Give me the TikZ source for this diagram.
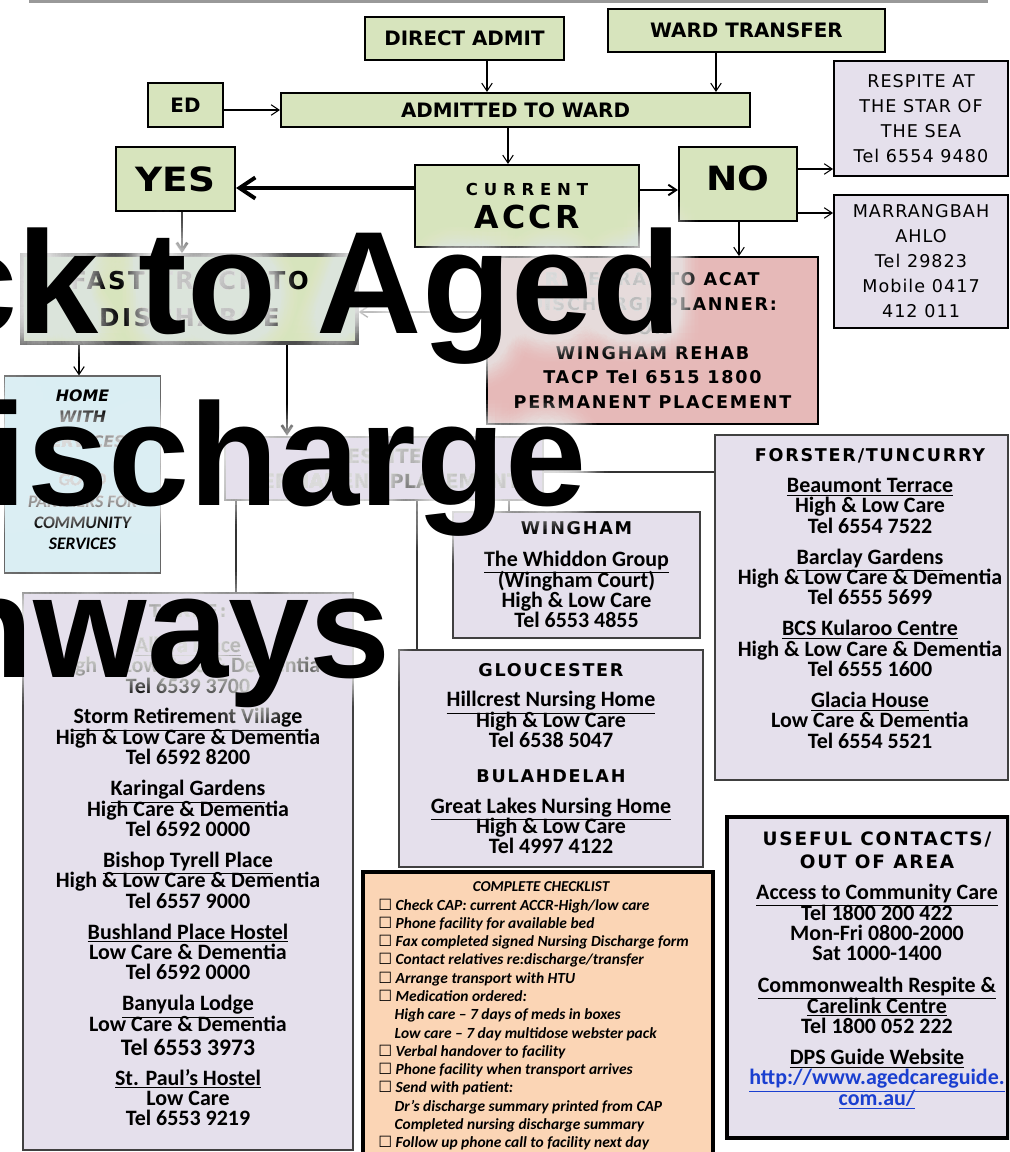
\documentclass[tikz,border=0pt]{standalone}
\usepackage{fontspec}
\setmainfont{Carlito}
\newfontfamily\tah{DejaVu Sans}
\newfontfamily\tahw[FakeStretch=1.12]{DejaVu Sans}
\newfontfamily\tahsp[LetterSpace=10]{DejaVu Sans}
\newfontfamily\tahsix[LetterSpace=6]{DejaVu Sans}
\newfontfamily\tahcur[LetterSpace=35]{DejaVu Sans}
\newfontfamily\arl{Liberation Sans}
\usetikzlibrary{arrows.meta}

\definecolor{boxgreen}{HTML}{D7E4BD}
\definecolor{boxlav}{HTML}{E5E0EC}
\definecolor{boxpink}{HTML}{E6B9B8}
\definecolor{boxblue}{HTML}{DAEEF3}
\definecolor{boxpeach}{HTML}{FBD5B5}
\definecolor{linkblue}{HTML}{1A3FD0}

\newcommand{\pxu}{0.02cm}
\newcommand{\hd}{\tahsp\bfseries\fontsize{10}{11.6}\selectfont}
\newcommand{\hdl}{\tahsp\bfseries\fontsize{10.5}{11.6}\selectfont}
\newcommand{\chkbox}{{\tah\mdseries\upshape ☐}}

\begin{document}
\setlength{\lineskiplimit}{-20pt}
\begin{tikzpicture}[x=0.02cm, y=-0.02cm,
    boxsize/.style 2 args={minimum width=#1*\pxu, minimum height=#2*\pxu},
    flow/.style={draw=black, line width=1.2pt, fill=boxgreen, inner sep=0pt, align=center, font=\tah\bfseries\fontsize{11.3}{13}\selectfont},
    info/.style={draw=black!75, line width=0.9pt, fill=boxlav, inner sep=0pt, align=center, font=\bfseries\fontsize{12.5}{11.6}\selectfont},
    factxt/.style={inner sep=0pt, align=center, font=\bfseries\fontsize{12.5}{11.6}\selectfont},
    contact/.style={draw=black, line width=1.1pt, fill=boxlav, inner sep=0pt, align=center, font=\tahsix\fontsize{10}{14.2}\selectfont},
    arr/.style={-{Straight Barb[length=4.5pt,width=6pt]}, line width=0.6pt},
    bigarr/.style={-{Straight Barb[length=9pt,width=12pt]}, line width=2.2pt},
    link/.style={line width=0.6pt, draw=black!80},
    glow/.style={text=white, text opacity=0.028, inner sep=0pt, anchor=base east, font=\arl\bfseries\fontsize{83}{90}\selectfont},
    bigtxt/.style={inner sep=0pt, anchor=base east, font=\arl\bfseries\fontsize{83}{90}\selectfont}]
  \useasboundingbox (0,0) rectangle (1009,1152);
  \clip (0,0) rectangle (1009,1152);

  \fill[black!40] (29,0) rectangle (988,3);

  \node[flow, boxsize={199}{43}] (direct) at (464.5,38.5) {DIRECT ADMIT};
  \node[flow, boxsize={277}{43}] (ward) at (746.5,30.5) {WARD TRANSFER};
  \node[flow, boxsize={75}{44}] (ed) at (185.5,105) {ED};
  \node[flow, boxsize={469}{34}] (admitted) at (515.5,110) {ADMITTED TO WARD};
  \node[flow, boxsize={119}{64}, font=\tahw\bfseries\fontsize{19}{22}\selectfont] (yes) at (175.5,179) {YES};
  \node[flow, boxsize={224}{82}, font=\tahcur\bfseries\fontsize{9.4}{18.7}\selectfont] (current) at (527,206) {CURRENT\\{\tahsp\fontsize{18}{18.7}\selectfont ACCR}};
  \node[flow, boxsize={118}{74}, font=\tahw\bfseries\fontsize{19}{22}\selectfont] (no) at (738,184) {\raisebox{3.4pt}[\height][\depth]{NO}};

  \node[contact, boxsize={174}{115}] (respite) at (921,118.5) {RESPITE AT\\THE STAR OF\\THE SEA\\Tel 6554 9480};
  \node[contact, boxsize={174}{133}] (marr) at (921,261.5) {MARRANGBAH\\AHLO\\Tel 29823\\Mobile 0417\\412 011};

  \node[flow, boxsize={335}{88}, draw=black!70, line width=2.2pt, font=\tahsp\bfseries\fontsize{14}{21.5}\selectfont] (fast) at (189.5,299) {FAST TRACK TO\\DISCHARGE};
  \node[draw=black, line width=1.1pt, fill=boxpink, boxsize={331}{167}, inner sep=0pt, align=center, font=\tahsp\bfseries\fontsize{10}{14}\selectfont] (pink) at (652.5,340.5) {REFERRAL TO ACAT\\DISCHARGE PLANNER:\\OR\\WINGHAM REHAB\\TACP Tel 6515 1800\\PERMANENT PLACEMENT};

  \node[draw=black!60, line width=0.7pt, fill=boxblue, boxsize={156}{197}, inner sep=0pt, align=center, font=\tah\bfseries\itshape\fontsize{9}{12}\selectfont] (home) at (82.5,474.5) {HOME\\WITH\\[2pt]SERVICES\\[10pt]{\rmfamily\fontsize{10}{12}\selectfont GO TO}\\{\rmfamily\fontsize{10}{12}\selectfont PARTNERS FOR}\\{\rmfamily\fontsize{10}{12}\selectfont COMMUNITY}\\{\rmfamily\fontsize{10}{12}\selectfont SERVICES}\rule[-5.6pt]{0pt}{5.6pt}};

  \node[draw=black!65, line width=1.6pt, fill=boxlav, boxsize={318}{63}, inner sep=0pt, align=center, font=\tah\bfseries\fontsize{11}{14.2}\selectfont] (place) at (384,468.5) {RESPITE /\\PERMANENT PLACEMENT};

  \node[info, boxsize={247}{126}] (wingham) at (576.5,575) {{\hd WINGHAM}\\[6.5pt]\underline{The Whiddon Group}\\(Wingham Court)\\High \& Low Care\\Tel 6553 4855};
  \node[info, boxsize={304}{217}] (glou) at (551,758.5) {{\hd GLOUCESTER}\\[6pt]\underline{Hillcrest Nursing Home}\\High \& Low Care\\Tel 6538 5047\\[8pt]{\hd BULAHDELAH}\\[6pt]\underline{Great Lakes Nursing Home}\\High \& Low Care\\Tel 4997 4122};

  \node[info, boxsize={293}{345}] (forster) at (861.5,607.5) {};
  \node[factxt] (forstertxt) at (870,598.5) {{\hd FORSTER/TUNCURRY}\\[6pt]\underline{Beaumont Terrace}\\High \& Low Care\\Tel 6554 7522\\[6pt]\underline{Barclay Gardens}\\High \& Low Care \& Dementia\\Tel 6555 5699\\[6pt]\underline{BCS Kularoo Centre}\\High \& Low Care \& Dementia\\Tel 6555 1600\\[6pt]\underline{Glacia House}\\Low Care \& Dementia\\Tel 6554 5521};

  \node[info, boxsize={330}{557}] (taree) at (188,871.5) {};
  \node[factxt] (tareetxt) at (188,865.5) {{\hd TAREE:}\\[8pt]\underline{Alkira Place}\\High \& Low Care \& Dementia\\Tel 6539 3700\\[6pt]\underline{Storm Retirement Village}\\High \& Low Care \& Dementia\\Tel 6592 8200\\[6pt]\underline{Karingal Gardens}\\High Care \& Dementia\\Tel 6592 0000\\[6pt]\underline{Bishop Tyrell Place}\\High \& Low Care \& Dementia\\Tel 6557 9000\\[6pt]\underline{Bushland Place Hostel}\\Low Care \& Dementia\\Tel 6592 0000\\[6pt]\underline{Banyula Lodge}\\Low Care \& Dementia\\[2.5pt]{\fontsize{13.5}{11.6}\selectfont Tel 6553 3973}\\[5pt]\underline{St. Paul’s Hostel}\\Low Care\\Tel 6553 9219};

  \node[info, draw=black, line width=2.3pt, boxsize={281}{321}] (useful) at (867.5,977.5) {};
  \node[factxt] (usefultxt) at (877,970.5) {{\hdl USEFUL CONTACTS/}\\[2pt]{\hdl OUT OF AREA}\\[6pt]\underline{Access to Community Care}\\Tel 1800 200 422\\Mon-Fri 0800-2000\\Sat 1000-1400\\[6.5pt]\underline{Commonwealth Respite \&}\\\underline{Carelink Centre}\\Tel 1800 052 222\\[6pt]\underline{DPS Guide Website}\\{\color{linkblue}\underline{http://www.agedcareguide.}}\\{\color{linkblue}\underline{com.au/}}};

  \node[draw=black, line width=2pt, fill=boxpeach, boxsize={350}{292}] (check) at (538,1018) {};
  \node[inner sep=0pt, font=\bfseries\itshape\fontsize{8.6}{9}\selectfont] (checkhead) at (541,887) {COMPLETE CHECKLIST};
  \node[anchor=north west, inner sep=0pt, align=left, font=\bfseries\itshape\fontsize{8.8}{10.4}\selectfont] (checklist) at (378,898.5) {\chkbox\ Check CAP: current ACCR-High/low care\\\chkbox\ Phone facility for available bed\\\chkbox\ Fax completed signed Nursing Discharge form\\\chkbox\ Contact relatives re:discharge/transfer\\\chkbox\ Arrange transport with HTU\\\chkbox\ Medication ordered:\\\hspace*{1.05em}High care – 7 days of meds in boxes\\\hspace*{1.05em}Low care – 7 day multidose webster pack\\\chkbox\ Verbal handover to facility\\\chkbox\ Phone facility when transport arrives\\\chkbox\ Send with patient:\\\hspace*{1.05em}Dr’s discharge summary printed from CAP\\\hspace*{1.05em}Completed nursing discharge summary\\\chkbox\ Follow up phone call to facility next day};

  \draw[arr] (direct.south -| 487,0) -- (admitted.north -| 487,0);
  \draw[arr] (ward.south -| 716,0) -- (admitted.north -| 716,0);
  \draw[arr] (ed.east |- admitted.west) -- (admitted.west);
  \draw[arr] (admitted.south -| 508,0) -- (current.north -| 508,0);
  \draw[bigarr] (current.west |- 0,188) -- (yes.east |- 0,188);
  \draw[arr, line width=1.1pt] (current.east |- 0,190) -- (no.west |- 0,190);
  \draw[arr] (no.east |- 0,169) -- (respite.west |- 0,169);
  \draw[arr] (no.east |- 0,213) -- (marr.west |- 0,213);
  \draw[arr] (no.south -| 739,0) -- (pink.north -| 739,0);
  \draw[arr, line width=1.6pt, draw=black!75] (yes.south -| 182,0) -- (fast.north -| 182,0);
  \draw[arr] (pink.west |- 0,312) -- (fast.east |- 0,312);
  \draw[arr] (fast.south -| 79,0) -- (home.north -| 79,0);
  \draw[arr, line width=1.6pt] (fast.south -| 287,0) -- (place.north -| 287,0);
  \draw[link] (place.east |- 0,472) -- (forster.west |- 0,472);
  \draw[link] (place.south -| 509,0) -- (wingham.north -| 509,0);
  \draw[link] (place.south -| 417,0) -- (glou.north -| 417,0);
  \draw[link] (place.south -| 236,0) -- (taree.north -| 236,0);

  \foreach \r in {4,8,12,16,20,24,28}{
    \foreach \a in {0,15,...,345}{
      \node[glow] (glowa-\r-\a) at ([shift={(\a:\r)}]682,333) {ck to Aged};
      \node[glow] (glowb-\r-\a) at ([shift={(\a:\r)}]587,505) {ischarge};
      \node[glow] (glowc-\r-\a) at ([shift={(\a:\r)}]391,677) {hways};
    }
  }
  \node[bigtxt] (title1) at (682,333) {ck to Aged};
  \node[bigtxt] (title2) at (587,505) {ischarge};
  \node[bigtxt] (title3) at (391,677) {hways};
\end{tikzpicture}
\end{document}
